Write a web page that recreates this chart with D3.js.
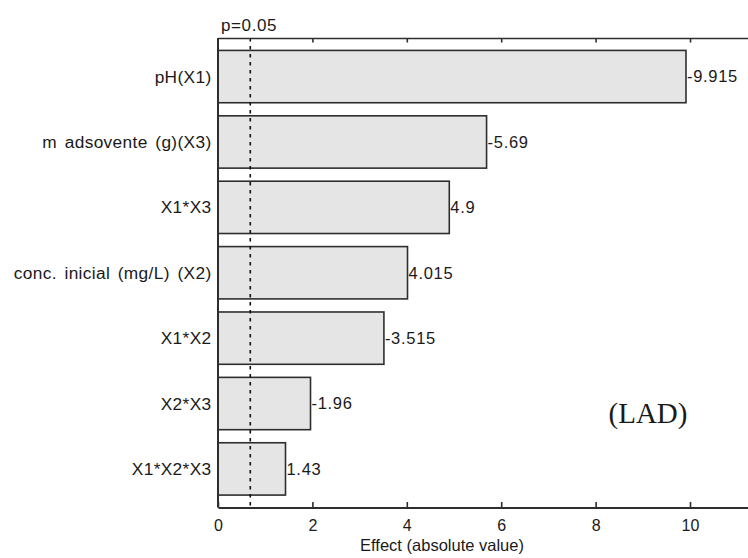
<!DOCTYPE html>
<html>
<head>
<meta charset="utf-8">
<script src="https://cdn.jsdelivr.net/npm/d3@7"></script>
<style>
  html, body { margin: 0; padding: 0; background: #fff; }
  svg { display: block; }
  text { font-family: Arial, "Liberation Sans", sans-serif; fill: #1a1a1a; }
</style>
</head>
<body>
<svg id="chart" width="748" height="558"></svg>
<script>
// Pareto chart of standardized effects
const factors = ["pH(X1)", "m adsovente (g)(X3)", "X1*X3", "conc. inicial (mg/L) (X2)", "X1*X2", "X2*X3", "X1*X2*X3"];
const effects = [-9.915, -5.69, 4.9, 4.015, -3.515, -1.96, 1.43];
const effectLabels = ["-9.915", "-5.69", "4.9", "4.015", "-3.515", "-1.96", "1.43"];
const xTicks = [0, 2, 4, 6, 8, 10];
const pLimit = 0.684;
const pLimitLabel = "p=0.05";
const xTitle = "Effect (absolute value)";
const panelTag = "(LAD)";

const svg = d3.select("#chart");
const plotLeft = 218, plotTop = 38, plotBottom = 507.5;

const x = d3.scaleLinear().domain([0, 12]).range([plotLeft, plotLeft + 12 * 47.2]);
const y = d3.scaleBand().domain(factors).range([plotTop, plotBottom]).paddingInner(0.2).paddingOuter(0.19);

// clip for the left labels
svg.append("defs").append("clipPath").attr("id", "labelClip")
  .append("rect").attr("x", 14).attr("y", 0).attr("width", 748).attr("height", 558);

// bars
svg.append("g").selectAll("rect").data(factors).join("rect")
  .attr("x", x(0))
  .attr("y", d => y(d))
  .attr("width", (d, i) => x(Math.abs(effects[i])) - x(0))
  .attr("height", y.bandwidth())
  .attr("fill", "#e5e5e5")
  .attr("stroke", "#2e2e2e")
  .attr("stroke-width", 1.6);

// significance line
svg.append("line")
  .attr("x1", x(pLimit)).attr("x2", x(pLimit))
  .attr("y1", plotTop).attr("y2", plotBottom)
  .attr("stroke", "#111").attr("stroke-width", 1.6)
  .attr("stroke-dasharray", "3.5,4.5");

svg.append("text")
  .attr("x", 221).attr("y", 31)
  .attr("font-size", 17)
  .attr("letter-spacing", 0.6)
  .text(pLimitLabel);

// axes: bottom and top, ticks pointing inward
const bottomAxis = d3.axisBottom(x).tickValues(xTicks).tickSizeInner(-5.5).tickSizeOuter(0).tickPadding(12);
const gb = svg.append("g").attr("transform", `translate(0,${plotBottom})`).call(bottomAxis);
gb.select(".domain").attr("stroke", "#2e2e2e").attr("stroke-width", 2);
gb.selectAll(".tick line").attr("stroke", "#2e2e2e").attr("stroke-width", 1.6);
gb.selectAll(".tick text").attr("font-size", 16).attr("fill", "#1a1a1a")
  .attr("font-family", "Arial, 'Liberation Sans', sans-serif");

const topAxis = d3.axisTop(x).tickValues(xTicks.slice(1)).tickSizeInner(-4.5).tickSizeOuter(0).tickFormat("");
const gt = svg.append("g").attr("transform", `translate(0,${plotTop})`).call(topAxis);
gt.select(".domain").attr("stroke", "#2e2e2e").attr("stroke-width", 1.6);
gt.selectAll(".tick line").attr("stroke", "#2e2e2e").attr("stroke-width", 1.6);

// left axis line
svg.append("line")
  .attr("x1", plotLeft).attr("x2", plotLeft).attr("y1", plotTop).attr("y2", plotBottom)
  .attr("stroke", "#2e2e2e").attr("stroke-width", 2);

// category labels
svg.append("g").attr("clip-path", "url(#labelClip)")
  .selectAll("text").data(factors).join("text")
  .attr("x", 211.5)
  .attr("y", d => y(d) + y.bandwidth() / 2)
  .attr("dy", "0.35em")
  .attr("text-anchor", "end")
  .attr("font-size", 17.3)
  .attr("letter-spacing", 0.35)
  .attr("word-spacing", 2.5)
  .text(d => d);

// value labels at bar ends
svg.append("g").selectAll("text").data(factors).join("text")
  .attr("x", (d, i) => x(Math.abs(effects[i])) + 1)
  .attr("y", d => y(d) + y.bandwidth() / 2)
  .attr("dy", "0.35em")
  .attr("font-size", 16.5)
  .attr("letter-spacing", 0.7)
  .text((d, i) => effectLabels[i]);

// axis title
svg.append("text")
  .attr("x", 442).attr("y", 551)
  .attr("text-anchor", "middle")
  .attr("font-size", 16.5)
  .text(xTitle);

// panel tag
svg.append("text")
  .attr("x", 648).attr("y", 423)
  .attr("text-anchor", "middle")
  .attr("font-size", 29)
  .style("font-family", "'Times New Roman', 'Liberation Serif', serif")
  .text(panelTag);
</script>
</body>
</html>
